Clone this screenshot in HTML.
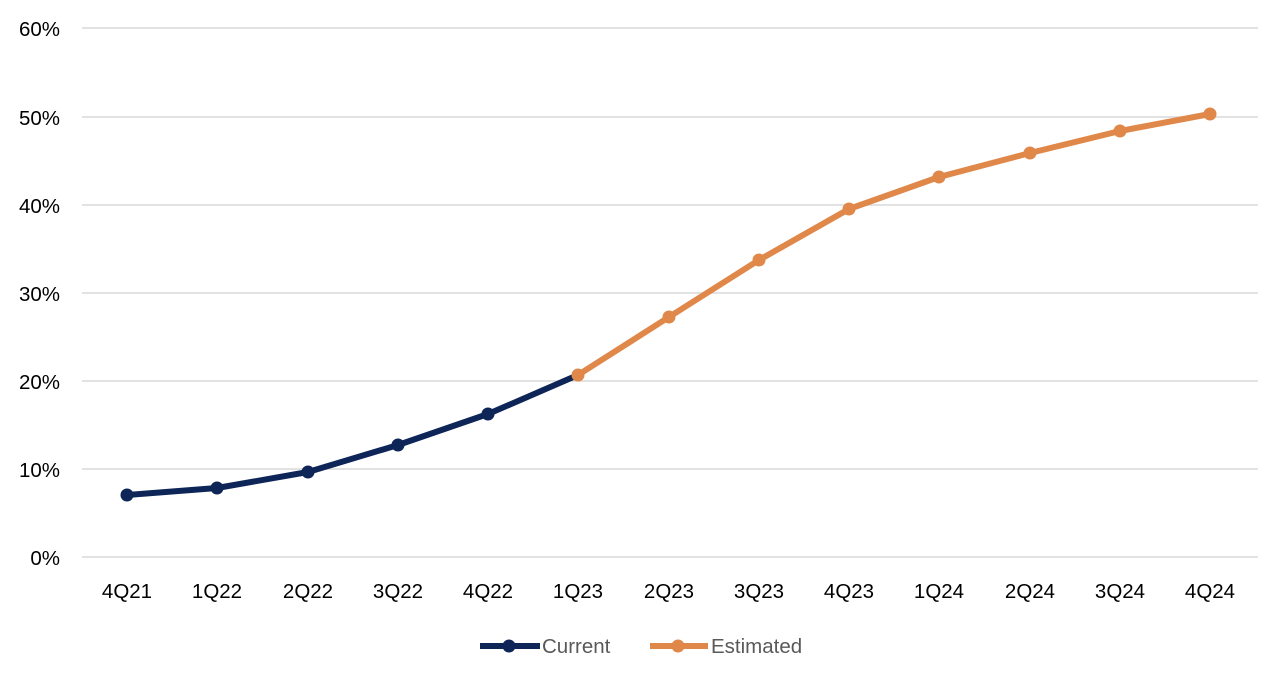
<!DOCTYPE html>
<html><head><style>
body{margin:0;background:#fff;}
svg text{font-family:"Liberation Sans",Arial,sans-serif;font-size:20.5px;fill:#000;}
</style></head><body>
<svg width="1280" height="668" viewBox="0 0 1280 668" xmlns="http://www.w3.org/2000/svg">
<g stroke="#d9d9d9" stroke-width="1.5">
<line x1="82" x2="1258" y1="28" y2="28"/>
<line x1="82" x2="1258" y1="117" y2="117"/>
<line x1="82" x2="1258" y1="205" y2="205"/>
<line x1="82" x2="1258" y1="293" y2="293"/>
<line x1="82" x2="1258" y1="381" y2="381"/>
<line x1="82" x2="1258" y1="469" y2="469"/>
<line x1="82" x2="1258" y1="557" y2="557"/>
</g>
<g text-anchor="end">
<text x="60" y="36">60%</text>
<text x="60" y="125">50%</text>
<text x="60" y="213">40%</text>
<text x="60" y="301">30%</text>
<text x="60" y="389">20%</text>
<text x="60" y="477">10%</text>
<text x="60" y="565">0%</text>
</g>
<g text-anchor="middle">
<text x="127" y="598">4Q21</text><text x="217" y="598">1Q22</text><text x="308" y="598">2Q22</text>
<text x="398" y="598">3Q22</text><text x="488" y="598">4Q22</text><text x="578" y="598">1Q23</text>
<text x="669" y="598">2Q23</text><text x="759" y="598">3Q23</text><text x="849" y="598">4Q23</text>
<text x="939" y="598">1Q24</text><text x="1030" y="598">2Q24</text><text x="1120" y="598">3Q24</text>
<text x="1210" y="598">4Q24</text>
</g>
<polyline fill="none" stroke="#0d2557" stroke-width="6" stroke-linejoin="round" points="127,495 217,488 308,472 398,445 488,414 578,375"/>
<polyline fill="none" stroke="#e0884a" stroke-width="6" stroke-linejoin="round" points="578,375 669,317 759,260 849,209 939,177 1030,153 1120,131 1210,114"/>
<g fill="#0d2557">
<circle cx="127" cy="495" r="6.5"/><circle cx="217" cy="488" r="6.5"/><circle cx="308" cy="472" r="6.5"/>
<circle cx="398" cy="445" r="6.5"/><circle cx="488" cy="414" r="6.5"/>
</g>
<g fill="#e0884a">
<circle cx="578" cy="375" r="6.5"/><circle cx="669" cy="317" r="6.5"/><circle cx="759" cy="260" r="6.5"/>
<circle cx="849" cy="209" r="6.5"/><circle cx="939" cy="177" r="6.5"/><circle cx="1030" cy="153" r="6.5"/>
<circle cx="1120" cy="131" r="6.5"/><circle cx="1210" cy="114" r="6.5"/>
</g>
<line x1="480" x2="540" y1="646" y2="646" stroke="#0d2557" stroke-width="6"/>
<circle cx="509" cy="646" r="6.5" fill="#0d2557"/>
<text x="542" y="653" style="fill:#595959">Current</text>
<line x1="650" x2="708" y1="646" y2="646" stroke="#e0884a" stroke-width="6"/>
<circle cx="678" cy="646" r="6.5" fill="#e0884a"/>
<text x="711" y="653" style="fill:#595959">Estimated</text>
</svg>
</body></html>
